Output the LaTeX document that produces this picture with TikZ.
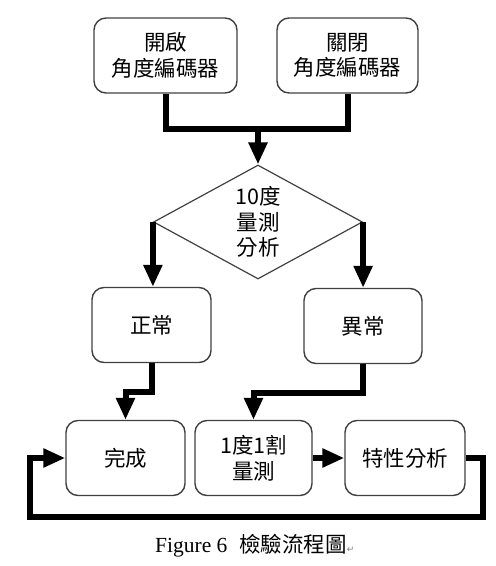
\documentclass[tikz,border=0pt]{standalone}
\usepackage{fontspec}
\newfontfamily\cjk{Noto Sans CJK TC}
\newfontfamily\capfont{Liberation Serif}
\newfontfamily\symfont{DejaVu Sans}
\usetikzlibrary{arrows.meta,shapes.geometric}

\begin{document}
\begin{tikzpicture}[x=1pt,y=-1pt,
    every node/.style={font=\cjk\fontsize{21.5}{25.5}\selectfont,align=center,inner sep=0pt},
    box/.style={draw=black!75,line width=1.4pt,rounded corners=12pt,minimum width=119pt,minimum height=75pt},
    test/.style={draw=black!75,line width=1.2pt,shape=diamond,aspect=1.83,minimum width=209pt,minimum height=114pt},
    link/.style={line width=6pt},
    arr/.style={link,-{Triangle[length=22pt,width=18pt]}}]
      \useasboundingbox (0,0) rectangle (496,566);
      \node[box,minimum width=143pt] (open) at (165.5,55.5) {開啟\\角度編碼器};
      \node[box,minimum width=141pt] (close) at (347.5,55.5) {關閉\\角度編碼器};
      \node[test] (test) at (258,222) {10度\\量測\\分析};
      \node[box] (normal) at (151.5,325) {正常};
      \node[box,minimum width=118pt] (abnormal) at (363,326) {異常};
      \node[box] (done) at (125.5,458) {完成};
      \node[box,minimum width=117pt] (fine) at (253.5,458) {1度1割\\量測};
      \node[box,minimum width=120pt] (char) at (405,458) {特性分析};
      \coordinate (merge) at (258,128);
      \coordinate (corner) at (30,517);
      \draw[link] (open.south) -- ++(0,35) -| (close.south);
      \draw[arr] (merge) -- (test.north);
      \draw[arr] (test.west) -- (test.west |- normal.north);
      \draw[arr] (test.east) -- (test.east |- abnormal.north);
      \draw[arr] (normal.south) -- ++(0,29) -| (done.north);
      \draw[arr] (abnormal.south) -- ++(0,29) -| (fine.north);
      \draw[arr] (fine.east) -- (char.west);
      \draw[arr] (char.east) -- ++(17,0) |- (corner) |- (done.west);
      \node[anchor=base west,font=\capfont\fontsize{21.5}{25}\selectfont] (caption) at (155,552)
        {Figure 6\hspace{0.55em}{\cjk 檢驗流程圖}{\symfont\color{gray}\fontsize{9}{10}\selectfont ↵}};
    \end{tikzpicture}
\end{document}
